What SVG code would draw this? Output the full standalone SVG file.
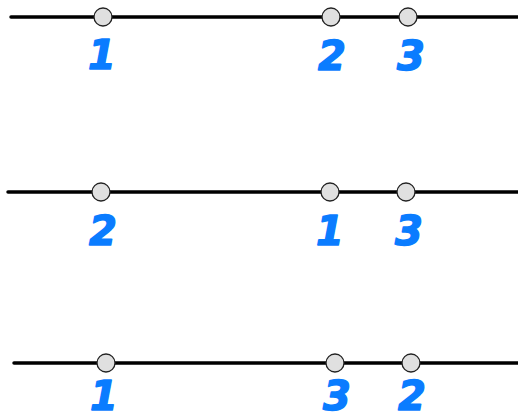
<svg xmlns="http://www.w3.org/2000/svg" width="518" height="420" viewBox="0 0 518 420">
<style>
.ln{stroke:#000;stroke-width:3.5;stroke-linecap:round;fill:none}
.pt{fill:#e0e0e0;stroke:#222;stroke-width:1.3}
.lb{font-family:"DejaVu Sans","Liberation Sans",sans-serif;font-weight:bold;font-style:italic;font-size:40px;fill:#0a7cff;stroke:#0a7cff;stroke-width:1.5;stroke-linejoin:round;text-anchor:middle}
</style>
<rect width="518" height="420" fill="#fff"/>
<g id="row1">
<line class="ln" x1="11" y1="17" x2="520" y2="17"/>
<circle class="pt" cx="103" cy="17" r="9"/>
<circle class="pt" cx="331" cy="17" r="9"/>
<circle class="pt" cx="408" cy="17" r="9"/>
<text class="lb" x="102" y="69">1</text>
<text class="lb" x="332" y="70">2</text>
<text class="lb" x="411" y="70">3</text>
</g>
<g id="row2">
<line class="ln" x1="8" y1="192" x2="520" y2="192"/>
<circle class="pt" cx="101" cy="192" r="9"/>
<circle class="pt" cx="330" cy="192" r="9"/>
<circle class="pt" cx="406" cy="192" r="9"/>
<text class="lb" x="103" y="245">2</text>
<text class="lb" x="330" y="245">1</text>
<text class="lb" x="409" y="245">3</text>
</g>
<g id="row3">
<line class="ln" x1="14" y1="363" x2="520" y2="363"/>
<circle class="pt" cx="106" cy="363" r="9"/>
<circle class="pt" cx="335" cy="363" r="9"/>
<circle class="pt" cx="411" cy="363" r="9"/>
<text class="lb" x="104" y="410">1</text>
<text class="lb" x="337" y="410">3</text>
<text class="lb" x="412" y="410">2</text>
</g>
</svg>
